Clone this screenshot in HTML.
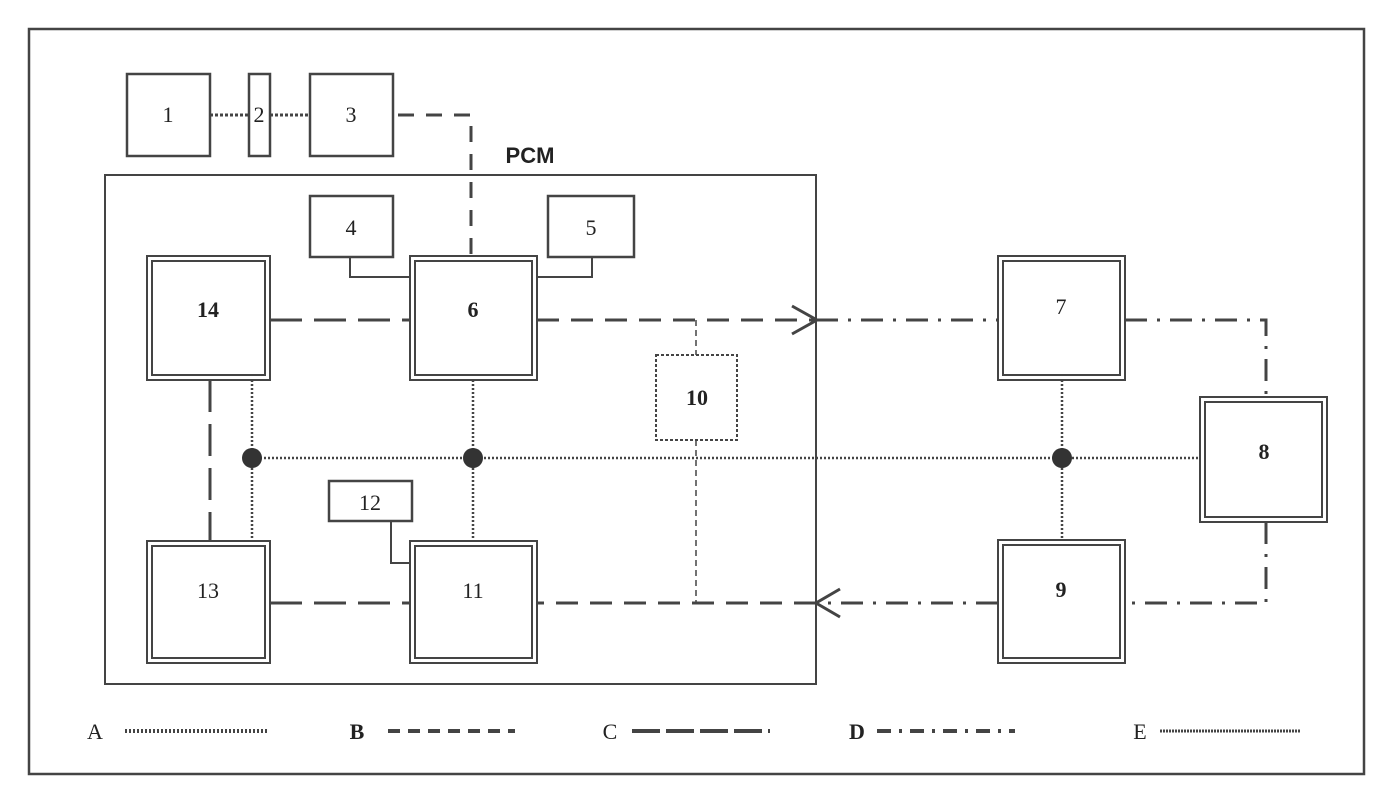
<!DOCTYPE html>
<html><head><meta charset="utf-8"><style>
html,body{margin:0;padding:0;background:#fff;}
svg{display:block;}
text{font-family:"Liberation Serif",serif;font-size:22px;fill:#222;text-anchor:middle;}
</style></head><body>
<svg width="1392" height="790" viewBox="0 0 1392 790" xmlns="http://www.w3.org/2000/svg">
<g fill="none" stroke="#444" stroke-width="2">
<rect x="29" y="29" width="1335" height="745" stroke-width="2.5"/>
<!-- top boxes -->
<rect x="127" y="74" width="83" height="82" stroke-width="2.5"/>
<rect x="249" y="74" width="21" height="82" stroke-width="2.5"/>
<rect x="310" y="74" width="83" height="82" stroke-width="2.5"/>
<line x1="210" y1="115" x2="249" y2="115" stroke-dasharray="3,2" stroke-width="3"/>
<line x1="270" y1="115" x2="310" y2="115" stroke-dasharray="3,2" stroke-width="3"/>
<polyline points="398,115 471,115 471,257" stroke-dasharray="16,12" stroke-width="3"/>
<!-- PCM -->
<rect x="105" y="175" width="711" height="509" stroke-width="2"/>
<rect x="310" y="196" width="83" height="61" stroke-width="2.5"/>
<rect x="548" y="196" width="86" height="61" stroke-width="2.5"/>
<polyline points="350,257 350,277 410,277" stroke-width="2"/>
<polyline points="592,257 592,277 537,277" stroke-width="2"/>
<rect x="329" y="481" width="83" height="40" stroke-width="2.5"/>
<polyline points="391,521 391,563 410,563" stroke-width="2"/>
<!-- double boxes -->
<g stroke-width="2">
<rect x="147" y="256" width="123" height="124"/><rect x="152" y="261" width="113" height="114"/>
<rect x="410" y="256" width="127" height="124"/><rect x="415" y="261" width="117" height="114"/>
<rect x="147" y="541" width="123" height="122"/><rect x="152" y="546" width="113" height="112"/>
<rect x="410" y="541" width="127" height="122"/><rect x="415" y="546" width="117" height="112"/>
<rect x="998" y="256" width="127" height="124"/><rect x="1003" y="261" width="117" height="114"/>
<rect x="998" y="540" width="127" height="123"/><rect x="1003" y="545" width="117" height="113"/>
<rect x="1200" y="397" width="127" height="125"/><rect x="1205" y="402" width="117" height="115"/>
</g>
<rect x="656" y="355" width="81" height="85" stroke-dasharray="3,2" stroke-width="2"/>
<!-- main flows -->
<line x1="270" y1="320" x2="410" y2="320" stroke-dasharray="32,12" stroke-width="3"/>
<line x1="537" y1="320" x2="816" y2="320" stroke-dasharray="22,12" stroke-width="3"/>
<line x1="816" y1="320" x2="998" y2="320" stroke-dasharray="22,10,3,10" stroke-width="3"/>
<polyline points="1125,320 1266,320 1266,397" stroke-dasharray="22,10,3,10" stroke-width="3"/>
<polyline points="1266,522 1266,603 1125,603" stroke-dasharray="22,10,3,10" stroke-width="3"/>
<line x1="998" y1="603" x2="816" y2="603" stroke-dasharray="22,10,3,10" stroke-width="3"/>
<line x1="816" y1="603" x2="537" y2="603" stroke-dasharray="22,12" stroke-width="3"/>
<line x1="270" y1="603" x2="410" y2="603" stroke-dasharray="32,12" stroke-width="3"/>
<polyline points="792,306 817,320 792,334" stroke-width="3"/>
<polyline points="840,589 816,603 840,617" stroke-width="3"/>
<!-- 10 links -->
<line x1="696" y1="320" x2="696" y2="355" stroke-dasharray="6,4" stroke-width="1.5"/>
<line x1="696" y1="440" x2="696" y2="603" stroke-dasharray="6,4" stroke-width="1.5"/>
<!-- dotted bus -->
<line x1="252" y1="458" x2="1200" y2="458" stroke-dasharray="2,2" stroke-width="2.5"/>
<line x1="252" y1="380" x2="252" y2="541" stroke-dasharray="2,2" stroke-width="2.5"/>
<line x1="473" y1="380" x2="473" y2="541" stroke-dasharray="2,2" stroke-width="2.5"/>
<line x1="1062" y1="380" x2="1062" y2="540" stroke-dasharray="2,2" stroke-width="2.5"/>
<line x1="210" y1="380" x2="210" y2="541" stroke-dasharray="32,12" stroke-width="3"/>
<!-- legend -->
<line x1="125" y1="731" x2="268" y2="731" stroke-dasharray="2,2" stroke-width="4"/>
<line x1="388" y1="731" x2="515" y2="731" stroke-dasharray="12,8" stroke-width="4"/>
<line x1="632" y1="731" x2="770" y2="731" stroke-dasharray="28,6" stroke-width="4"/>
<line x1="877" y1="731" x2="1015" y2="731" stroke-dasharray="14,8,3,8" stroke-width="4"/>
<line x1="1160" y1="731" x2="1300" y2="731" stroke-dasharray="2,1" stroke-width="3"/>
</g>
<g fill="#333">
<circle cx="252" cy="458" r="10"/><circle cx="473" cy="458" r="10"/><circle cx="1062" cy="458" r="10"/>
</g>
<text x="168" y="122">1</text><text x="259" y="122">2</text><text x="351" y="122">3</text>
<text x="351" y="235">4</text><text x="591" y="235">5</text>
<text x="208" y="317" font-weight="bold">14</text><text x="473" y="317" font-weight="bold">6</text>
<text x="1061" y="314">7</text><text x="1264" y="459" font-weight="bold">8</text>
<text x="1061" y="597" font-weight="bold">9</text><text x="697" y="405" font-weight="bold">10</text>
<text x="370" y="510">12</text><text x="208" y="598">13</text><text x="473" y="598">11</text>
<text x="530" y="163" style="font-family:'Liberation Sans',sans-serif;font-weight:bold;font-size:22px">PCM</text>
<text x="95" y="739" font-size="20">A</text><text x="357" y="739" font-size="20" font-weight="bold">B</text>
<text x="610" y="739" font-size="20">C</text><text x="857" y="739" font-size="20" font-weight="bold">D</text>
<text x="1140" y="739" font-size="20">E</text>
</svg>
</body></html>
